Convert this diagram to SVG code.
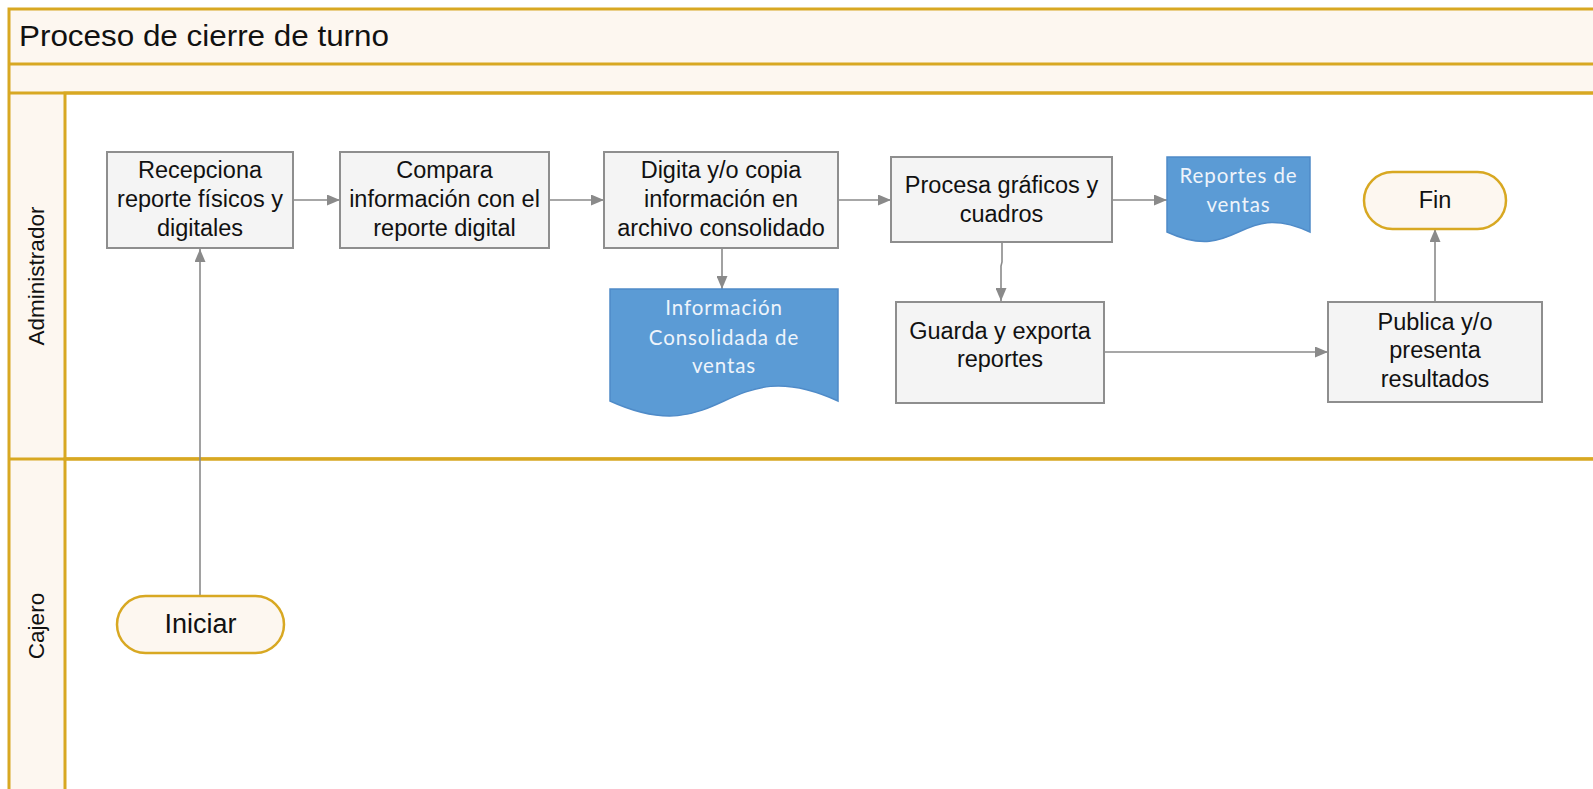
<svg xmlns="http://www.w3.org/2000/svg" width="1593" height="789" viewBox="0 0 1593 789">
  <style>
    .pool { fill: #fdf7f0; stroke: #d8a822; stroke-width: 3; }
    .lane { fill: #ffffff; stroke: #d8a822; stroke-width: 3; }
    .line { stroke: #d8a822; stroke-width: 3; fill: none; }
    .task { fill: #f4f4f4; stroke: #8e8e8e; stroke-width: 2; }
    .term { fill: #fdf7f0; stroke: #d8a822; stroke-width: 2.5; }
    .doc { fill: #5b9bd5; stroke: #4f8bc8; stroke-width: 1.5; }
    .txt { font-family: "Liberation Sans", Arial, sans-serif; font-size: 23.5px; fill: #111111; text-anchor: middle; }
    .title { font-family: "Liberation Sans", Arial, sans-serif; font-size: 30px; fill: #111111; }
    .lanelbl { font-family: "Liberation Sans", Arial, sans-serif; font-size: 22.5px; fill: #111111; text-anchor: middle; }
    .doctxt { font-family: Lato, "Open Sans", sans-serif; font-size: 20.5px; letter-spacing: 0.9px; fill: #eef4fb; text-anchor: middle; }
    .conn { stroke: #8a8a8a; stroke-width: 1.6; fill: none; marker-end: url(#arrow); }
  </style>
  <defs>
    <marker id="arrow" markerUnits="userSpaceOnUse" markerWidth="13" markerHeight="11" refX="13" refY="5.5" orient="auto">
      <path d="M0,0 L13,5.5 L0,11 Z" fill="#8a8a8a"/>
    </marker>
  </defs>

  <!-- pool frame, header rows and lanes -->
  <g id="pool">
    <rect class="pool" x="9" y="9" width="1600" height="800"/>
    <rect class="lane" x="65" y="93" width="1540" height="366"/>
    <rect class="lane" x="65" y="459" width="1540" height="350"/>
    <line class="line" x1="9" y1="64" x2="1600" y2="64"/>
    <line class="line" x1="9" y1="93" x2="1600" y2="93"/>
    <line class="line" x1="9" y1="459" x2="1600" y2="459"/>
    <text class="title" x="19" y="46" textLength="370" lengthAdjust="spacingAndGlyphs">Proceso de cierre de turno</text>
  </g>

  <g id="lane-administrador">
    <text class="lanelbl" transform="translate(44,276) rotate(-90)">Administrador</text>
  </g>
  <g id="lane-cajero">
    <text class="lanelbl" transform="translate(44,626) rotate(-90)">Cajero</text>
  </g>

  <!-- connectors -->
  <g id="connectors">
    <path class="conn" d="M200,596 L200,249"/>
    <path class="conn" d="M293,200 L340,200"/>
    <path class="conn" d="M549,200 L604,200"/>
    <path class="conn" d="M722,248 L722,289"/>
    <path class="conn" d="M838,200 L891,200"/>
    <path class="conn" d="M1112,200 L1167,200"/>
    <path class="conn" d="M1002,242 L1002,262 L1001,266 L1001,301"/>
    <path class="conn" d="M1104,352 L1328,352"/>
    <path class="conn" d="M1435,302 L1435,229"/>
  </g>

  <g id="iniciar">
    <rect class="term" x="117" y="596" width="167" height="57" rx="28.5"/>
    <text class="txt" x="200.5" y="633" style="font-size:27px">Iniciar</text>
  </g>

  <g id="recepciona">
    <rect class="task" x="107" y="152" width="186" height="96"/>
    <text class="txt" x="200" y="178">Recepciona</text>
    <text class="txt" x="200" y="206.5">reporte físicos y</text>
    <text class="txt" x="200" y="235.5">digitales</text>
  </g>

  <g id="compara">
    <rect class="task" x="340" y="152" width="209" height="96"/>
    <text class="txt" x="444.5" y="178">Compara</text>
    <text class="txt" x="444.5" y="206.5">información con el</text>
    <text class="txt" x="444.5" y="235.5">reporte digital</text>
  </g>

  <g id="digita">
    <rect class="task" x="604" y="152" width="234" height="96"/>
    <text class="txt" x="721" y="178">Digita y/o copia</text>
    <text class="txt" x="721" y="206.5">información en</text>
    <text class="txt" x="721" y="235.5">archivo consolidado</text>
  </g>

  <g id="info-consolidada">
    <path class="doc" d="M610,289 L838,289 L838,401 C724,349 724,453 610,401 Z"/>
    <text class="doctxt" x="724" y="315">Información</text>
    <text class="doctxt" x="724" y="345">Consolidada de</text>
    <text class="doctxt" x="724" y="373">ventas</text>
  </g>

  <g id="procesa">
    <rect class="task" x="891" y="157" width="221" height="85"/>
    <text class="txt" x="1001.5" y="193">Procesa gráficos y</text>
    <text class="txt" x="1001.5" y="221.5">cuadros</text>
  </g>

  <g id="reportes-ventas">
    <path class="doc" d="M1167,157 L1310,157 L1310,232 C1238.5,199 1238.5,265 1167,232 Z"/>
    <text class="doctxt" x="1238.5" y="183">Reportes de</text>
    <text class="doctxt" x="1238.5" y="211.5">ventas</text>
  </g>

  <g id="guarda">
    <rect class="task" x="896" y="302" width="208" height="101"/>
    <text class="txt" x="1000" y="338.5">Guarda y exporta</text>
    <text class="txt" x="1000" y="367">reportes</text>
  </g>

  <g id="publica">
    <rect class="task" x="1328" y="302" width="214" height="100"/>
    <text class="txt" x="1435" y="329.5">Publica y/o</text>
    <text class="txt" x="1435" y="358">presenta</text>
    <text class="txt" x="1435" y="386.5">resultados</text>
  </g>

  <g id="fin">
    <rect class="term" x="1364" y="172" width="142" height="57" rx="28.5"/>
    <text class="txt" x="1435" y="208">Fin</text>
  </g>
</svg>
